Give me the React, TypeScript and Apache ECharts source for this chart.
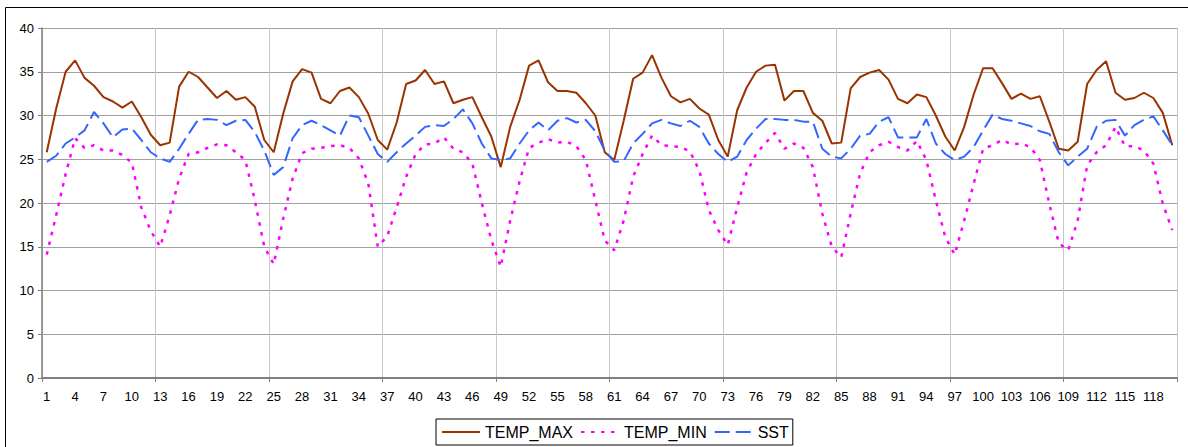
import React, { useEffect, useRef } from "react";
import * as echarts from "echarts";

const categories: string[] = Array.from({ length: 120 }, (_, i) => String(i + 1));

const tempMax: number[] = [
  25.8, 30.8, 35.0, 36.3, 34.3, 33.4, 32.1, 31.6, 30.9, 31.6, 29.8, 27.8,
  26.6, 26.9, 33.3, 35.0, 34.4, 33.2, 32.0, 32.8, 31.8, 32.1, 31.0, 27.2,
  25.8, 30.2, 33.9, 35.3, 34.9, 31.9, 31.4, 32.8, 33.2, 32.1, 30.2, 27.2,
  26.1, 29.2, 33.6, 34.0, 35.2, 33.6, 33.9, 31.4, 31.8, 32.1, 29.8, 27.6,
  24.1, 28.7, 31.8, 35.7, 36.3, 33.8, 32.8, 32.8, 32.6, 31.4, 30.0, 25.8,
  24.9, 29.4, 34.2, 34.9, 36.9, 34.3, 32.2, 31.5, 31.9, 30.8, 30.1, 27.2,
  25.3, 30.6, 33.2, 35.0, 35.7, 35.8, 31.7, 32.8, 32.8, 30.3, 29.4, 26.8,
  26.9, 33.1, 34.4, 34.9, 35.2, 34.1, 31.9, 31.4, 32.4, 32.1, 30.0, 27.6,
  26.0, 28.7, 32.4, 35.4, 35.4, 33.7, 31.9, 32.5, 31.9, 32.2, 29.3, 26.2,
  26.0, 27.0, 33.6, 35.2, 36.2, 32.6, 31.8, 32.0, 32.6, 32.0, 30.3, 26.6,
];

const tempMin: number[] = [
  14.1, 18.6, 23.3, 27.4, 26.3, 26.6, 26.0, 26.0, 25.5, 24.6, 19.5, 16.8,
  15.0, 18.6, 22.8, 25.6, 25.8, 26.3, 26.7, 26.6, 25.8, 24.9, 20.3, 15.0,
  13.0, 18.2, 22.8, 25.7, 26.2, 26.3, 26.5, 26.6, 26.3, 25.1, 22.2, 15.0,
  16.2, 19.5, 23.0, 25.6, 26.7, 26.8, 27.5, 26.2, 25.8, 24.5, 20.0, 15.8,
  12.7, 18.0, 22.5, 26.3, 26.9, 27.3, 26.9, 27.0, 26.5, 24.9, 20.3, 15.7,
  14.6, 18.0, 23.0, 25.6, 27.7, 26.6, 26.5, 26.4, 25.9, 23.7, 19.2, 16.9,
  15.2, 19.5, 23.5, 25.6, 26.9, 28.0, 26.2, 26.8, 26.3, 24.1, 18.8, 15.0,
  13.8, 18.8, 23.4, 25.8, 26.6, 27.0, 26.4, 26.0, 27.1, 24.9, 20.3, 16.1,
  14.1, 18.0, 22.2, 26.2, 26.6, 27.2, 26.7, 26.8, 26.4, 24.9, 19.9, 15.4,
  14.6, 18.0, 24.3, 25.8, 26.6, 28.7, 26.5, 26.5, 26.0, 24.5, 19.9, 16.9,
];

const sst: number[] = [
  24.7, 25.4, 26.8, 27.5, 28.3, 30.4, 29.1, 27.5, 28.4, 28.5, 27.2, 25.8,
  25.1, 24.7, 26.2, 27.9, 29.5, 29.6, 29.5, 28.9, 29.4, 29.5, 28.1, 26.0,
  23.2, 24.1, 27.4, 28.9, 29.4, 28.9, 28.3, 27.7, 30.0, 29.8, 27.7, 25.6,
  24.7, 25.8, 26.8, 27.7, 28.7, 28.9, 28.8, 29.6, 30.7, 29.1, 26.8, 25.1,
  24.9, 25.1, 26.8, 28.3, 29.2, 28.3, 29.4, 29.7, 29.2, 29.5, 28.2, 26.0,
  24.7, 24.8, 26.8, 27.9, 29.1, 29.5, 29.1, 28.8, 29.4, 28.7, 26.8, 25.6,
  24.7, 25.3, 27.2, 28.5, 29.6, 29.6, 29.5, 29.5, 29.3, 29.3, 26.2, 25.3,
  25.1, 26.2, 27.7, 27.9, 29.3, 29.8, 27.5, 27.5, 27.5, 29.6, 26.8, 25.6,
  24.9, 25.3, 26.4, 28.3, 30.1, 29.6, 29.4, 29.1, 28.8, 28.2, 27.9, 25.8,
  24.3, 25.3, 26.2, 28.7, 29.4, 29.5, 27.7, 28.9, 29.5, 29.9, 28.3, 26.6,
];

const seriesNames = ["TEMP_MAX", "TEMP_MIN", "SST"];

const FONT = "'Liberation Sans', Arial, sans-serif";

export default function App() {
  const ref = useRef<HTMLDivElement>(null);
  useEffect(() => {
    if (!ref.current) return;
    const chart = echarts.init(ref.current, undefined, { renderer: "svg" });
    chart.setOption({
      animation: false,
      backgroundColor: "#ffffff",
      textStyle: { fontFamily: FONT },
      graphic: [
        {
          type: "rect",
          silent: true,
          shape: { x: 5.5, y: 7.5, width: 1300, height: 600 },
          style: { fill: "none", stroke: "#000000", lineWidth: 1 },
        },
      ],
      grid: { left: 42, right: 11, top: 28, bottom: 69, containLabel: false },
      legend: {
        left: 436,
        top: 419,
        orient: "horizontal",
        data: seriesNames,
        itemWidth: 38,
        itemHeight: 16,
        itemGap: 7,
        padding: [5, 4, 5, 5],
        borderColor: "#000000",
        borderWidth: 1,
        itemStyle: { color: "transparent", borderColor: "transparent", borderWidth: 0 },
        textStyle: { fontFamily: FONT, fontSize: 16, color: "#000000" },
      },
      xAxis: {
        type: "category",
        data: categories,
        boundaryGap: true,
        axisLine: { show: true, lineStyle: { color: "#808080", width: 2 } },
        axisTick: { show: true, interval: 11, length: 4, lineStyle: { color: "#808080" } },
        axisLabel: { interval: 2, margin: 12, fontSize: 13, color: "#000000", fontFamily: FONT },
        splitLine: { show: true, interval: 11, lineStyle: { color: "#c8c8c8", width: 1 } },
      },
      yAxis: {
        type: "value",
        min: 0,
        max: 40,
        interval: 5,
        axisLine: { show: true, lineStyle: { color: "#808080", width: 1.5 } },
        axisTick: { show: true, length: 4, lineStyle: { color: "#808080" } },
        axisLabel: { margin: 8, fontSize: 13, color: "#000000", fontFamily: FONT },
        splitLine: { show: true, lineStyle: { color: "#a0a0a0", width: 1 } },
      },
      series: [
        {
          name: seriesNames[0],
          type: "line",
          data: tempMax,
          symbol: "none",
          lineStyle: { color: "#993300", width: 2, type: "solid" },
          itemStyle: { color: "#993300" },
        },
        {
          name: seriesNames[1],
          type: "line",
          data: tempMin,
          symbol: "none",
          lineStyle: { color: "#ff00ff", width: 2.5, type: [3.5, 6.5] },
          itemStyle: { color: "#ff00ff" },
        },
        {
          name: seriesNames[2],
          type: "line",
          data: sst,
          symbol: "none",
          lineStyle: { color: "#3366ff", width: 2, type: [15, 6] },
          itemStyle: { color: "#3366ff" },
        },
      ],
    });
    return () => chart.dispose();
  }, []);
  return (
    <div
      ref={ref}
      style={{ position: "fixed", left: 0, top: 0, width: 1188, height: 447, background: "#fff" }}
    />
  );
}
